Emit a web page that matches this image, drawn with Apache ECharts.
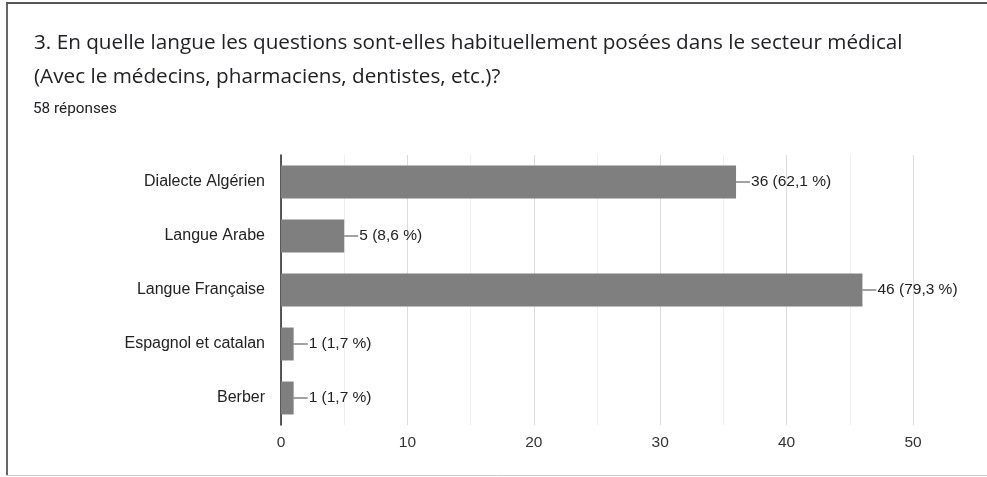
<!DOCTYPE html>
<html>
<head>
<meta charset="utf-8">
<script src="https://cdn.jsdelivr.net/npm/echarts@6/dist/echarts.min.js"></script>
<style>
  html, body { margin: 0; padding: 0; background: #fff; }
  #chart { width: 987px; height: 477px; }
</style>
</head>
<body>
<div id="chart"></div>
<script>
const categories = ["Dialecte Algérien", "Langue Arabe", "Langue Française", "Espagnol et catalan", "Berber"];
const counts = [36, 5, 46, 1, 1];
const percents = ["62,1", "8,6", "79,3", "1,7", "1,7"];
const xTicks = [0, 10, 20, 30, 40, 50];

const chart = echarts.init(document.getElementById("chart"));

const option = {
  animation: false,
  textStyle: { fontFamily: "Arial, sans-serif" },
  graphic: [
    // card border (left, top, bottom)
    { type: "line", shape: { x1: 7, y1: 3, x2: 7, y2: 476 }, style: { stroke: "#666", lineWidth: 2 } },
    { type: "line", shape: { x1: 6, y1: 3, x2: 987, y2: 3 }, style: { stroke: "#555", lineWidth: 2 } },
    { type: "line", shape: { x1: 6, y1: 475.5, x2: 987, y2: 475.5 }, style: { stroke: "#ccc", lineWidth: 1 } },
    {
      type: "text", left: 34, top: 26,
      style: {
        text: "3. En quelle langue les questions sont-elles habituellement posées dans le secteur médical\n(Avec le médecins, pharmaciens, dentistes, etc.)?",
        fontSize: 20.7, lineHeight: 34, fill: "#202124", fontFamily: "'Open Sans', Roboto, sans-serif"
      }
    },
    {
      type: "text", left: 33, top: 102,
      style: { text: "58 réponses", fontSize: 15.3, fill: "#202124", fontFamily: "Roboto, Arial, sans-serif" }
    }
  ],
  grid: { left: 281, right: 74, top: 155, bottom: 52 },
  xAxis: {
    type: "value",
    min: 0, max: 50, interval: 10,
    axisLine: { show: false },
    axisTick: { show: false },
    axisLabel: {
      color: "#333", fontSize: 15.5, margin: 10,
      formatter: v => (xTicks.includes(v) ? String(v) : "")
    },
    splitLine: { lineStyle: { color: "#dcdcdc", width: 1 } },
    minorTick: { show: false, splitNumber: 2 },
    minorSplitLine: { show: true, lineStyle: { color: "#efefef", width: 1 } }
  },
  yAxis: {
    type: "category",
    inverse: true,
    data: categories,
    axisLine: { show: true, lineStyle: { color: "#222", width: 1.5 } },
    axisTick: { show: false },
    axisLabel: { color: "#222", fontSize: 16, margin: 16 }
  },
  series: [{
    type: "bar",
    data: counts,
    barCategoryGap: "39%",
    itemStyle: { color: "#7f7f7f" },
    label: {
      show: true,
      position: "right",
      distance: 0,
      formatter: p => "{line|}{txt|" + p.value + " (" + percents[p.dataIndex] + " %)}",
      rich: {
        line: { width: 14, height: 1, backgroundColor: "#444" },
        txt: { color: "#222", fontSize: 15.5, padding: [0, 0, 0, 1] }
      }
    }
  }]
};

chart.setOption(option);
</script>
</body>
</html>
